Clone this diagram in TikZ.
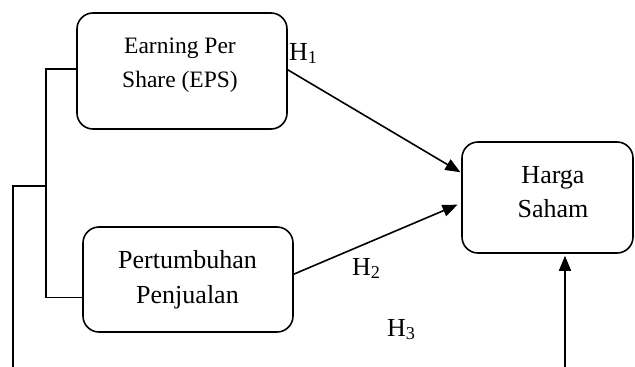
\documentclass[tikz,border=0pt]{standalone}
\usepackage{fontspec}
\setmainfont{Liberation Serif}
\usetikzlibrary{arrows.meta,calc}
\begin{document}
\begin{tikzpicture}[x=1pt,y=-1pt,
  box/.style={draw,line width=1.6pt,rounded corners=16pt,inner sep=0pt},
  conn/.style={line width=1.6pt},
  arr/.style={conn,-{Triangle[length=15pt,width=12pt]}},
  big/.style={font=\fontsize{26}{35}\selectfont},
  small/.style={font=\fontsize{23.5}{33}\selectfont},
  txt/.style={inner sep=0pt,anchor=base}]
\useasboundingbox (0,0) rectangle (635,367);
% boxes
\node[box,minimum width=210pt,minimum height=116pt] (eps) at (182,71) {};
\node[box,minimum width=210pt,minimum height=105pt] (pert) at (188,279.5) {};
\node[box,minimum width=171pt,minimum height=111pt] (harga) at (547.5,197.5) {};
% texts
\node[txt,small] (eps1) at (180,53) {Earning Per};
\node[txt,small] (eps2) at (180,87) {Share (EPS)};
\node[txt,big] (pert1) at (187.5,268) {Pertumbuhan};
\node[txt,big] (pert2) at (187.5,303) {Penjualan};
\node[txt,big] (har1) at (553,183) {Harga};
\node[txt,big] (har2) at (553,217) {Saham};
% hypothesis labels
\node[txt,big,anchor=base west] (h1) at (289,60) {H\textsubscript{1}};
\node[txt,big,anchor=base west] (h2) at (352,275) {H\textsubscript{2}};
\node[txt,big,anchor=base west] (h3) at (387,336) {H\textsubscript{3}};
% arrows
\coordinate (e1) at ($(eps.north east)!0.49!(eps.south east)$);
\coordinate (t1) at ($(harga.north west)!0.28!(harga.south west)$);
\draw[arr,shorten >=1pt] (e1) -- (t1);
\coordinate (p1) at ($(pert.north east)!0.45!(pert.south east)$);
\coordinate (t2) at ($(harga.north west)!0.55!(harga.south west)$);
\draw[arr,shorten >=4pt] (p1) -- (t2);
\coordinate (b3) at (565,368);
\draw[arr,shorten >=2pt] (b3) -- (b3 |- harga.south);
% bracket on the left
\coordinate (el) at ($(eps.north west)!0.485!(eps.south west)$);
\coordinate (pl) at ($(pert.north west)!0.667!(pert.south west)$);
\coordinate (jt) at (46,0 |- el);
\coordinate (jb) at (46,0 |- pl);
\coordinate (jm) at (46,186);
\coordinate (lm) at (12.7,186);
\coordinate (lb) at (12.7,368);
\draw[conn] (el) -- (jt) -- (jb) -- (pl);
\draw[conn] (jm) -- (lm) -- (lb);
\end{tikzpicture}
\end{document}
